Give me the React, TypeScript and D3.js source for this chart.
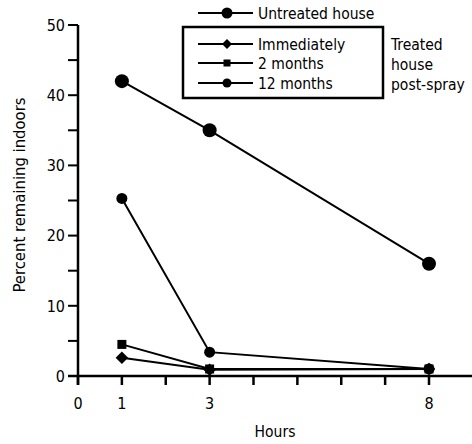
import React from 'react';
import * as d3 from 'd3';

const hours = [1, 3, 8];
const untreated = [42, 35, 16];
const immediately = [2.6, 0.9, 1.0];
const twoMonths = [4.5, 1.0, 1.0];
const twelveMonths = [25.3, 3.4, 1.0];
const yTicks = [0, 5, 10, 15, 20, 25, 30, 35, 40, 45, 50];
const yLabels = [0, 10, 20, 30, 40, 50];
const xTicks = [0, 1, 2, 3, 4, 5, 6, 7, 8];
const xLabels = [0, 1, 3, 8];
const treatedNote = ['Treated', 'house', 'post-spray'];

const font = '"Liberation Sans Narrow", "DejaVu Sans Condensed", "Liberation Sans", sans-serif';

const x = d3.scaleLinear().domain([0, 8]).range([78, 429]);
const y = d3.scaleLinear().domain([0, 50]).range([376, 25]);

const line = d3.line<number[]>().x(d => x(d[0])).y(d => y(d[1]));

const Marker = ({ kind, cx, cy, size }: { kind: string; cx: number; cy: number; size: number }) => {
  if (kind === 'circle') return <circle cx={cx} cy={cy} r={size} fill="#000" />;
  if (kind === 'square') return <rect x={cx - size} y={cy - size} width={size * 2} height={size * 2} fill="#000" />;
  const s = size * 1.25;
  return <polygon points={`${cx},${cy - s} ${cx + s},${cy} ${cx},${cy + s} ${cx - s},${cy}`} fill="#000" />;
};

const series = [
  { name: 'Untreated house', values: untreated, kind: 'circle', size: 7, legendSize: 5.5, ly: 13 },
  { name: 'Immediately', values: immediately, kind: 'diamond', size: 5, legendSize: 4, ly: 44 },
  { name: '2 months', values: twoMonths, kind: 'square', size: 4.5, legendSize: 3.5, ly: 63 },
  { name: '12 months', values: twelveMonths, kind: 'circle', size: 5.5, legendSize: 4.5, ly: 83 },
];
// squares sit on top at 3 and 8 h in the original
const drawOrder = [0, 3, 1, 2];

export default function App() {
  return (
    <svg width={472} height={444} style={{ position: 'absolute', left: 0, top: 0, background: '#fff' }} fontFamily={font}>
      {/* axes */}
      <line x1={x(0)} y1={y(50)} x2={x(0)} y2={y(0) + 9} stroke="#000" strokeWidth={2.5} />
      <line x1={x(0) - 10} y1={y(0)} x2={472} y2={y(0)} stroke="#000" strokeWidth={2.5} />
      {yTicks.map(t => (
        <line key={t} x1={x(0) - 10} x2={x(0)} y1={y(t)} y2={y(t)} stroke="#000" strokeWidth={2} />
      ))}
      {yLabels.map(t => (
        <text key={t} x={x(0) - 13} y={y(t)} dy="0.36em" textAnchor="end" fontSize={16}>{t}</text>
      ))}
      {xTicks.map(t => (
        <line key={t} x1={x(t)} x2={x(t)} y1={y(0)} y2={y(0) + 9} stroke="#000" strokeWidth={2.5} />
      ))}
      {xLabels.map(t => (
        <text key={t} x={x(t)} y={403} dy="0.36em" textAnchor="middle" fontSize={16}>{t}</text>
      ))}
      <text x={275} y={431} dy="0.36em" textAnchor="middle" fontSize={15.5}>Hours</text>
      <text transform="translate(19,195) rotate(-90)" dy="0.36em" textAnchor="middle" fontSize={16.5}>
        Percent remaining indoors
      </text>

      {/* data */}
      {drawOrder.map(k => series[k]).map(s => (
        <g key={s.name}>
          <path d={line(hours.map((h, i) => [h, s.values[i]])) || ''} fill="none" stroke="#000" strokeWidth={2} />
          {hours.map((h, i) => (
            <Marker key={h} kind={s.kind} cx={x(h)} cy={y(s.values[i])} size={s.size} />
          ))}
        </g>
      ))}

      {/* legend */}
      <rect x={183} y={27} width={200} height={71} fill="none" stroke="#000" strokeWidth={2.5} />
      {series.map(s => (
        <g key={s.name}>
          <line x1={198} x2={253} y1={s.ly} y2={s.ly} stroke="#000" strokeWidth={2} />
          <Marker kind={s.kind} cx={227} cy={s.ly} size={s.legendSize} />
          <text x={258} y={s.ly} dy="0.36em" fontSize={15.5}>{s.name}</text>
        </g>
      ))}
      {treatedNote.map((t, i) => (
        <text key={t} x={391} y={44 + i * 20} dy="0.36em" fontSize={15.5}>{t}</text>
      ))}
    </svg>
  );
}
